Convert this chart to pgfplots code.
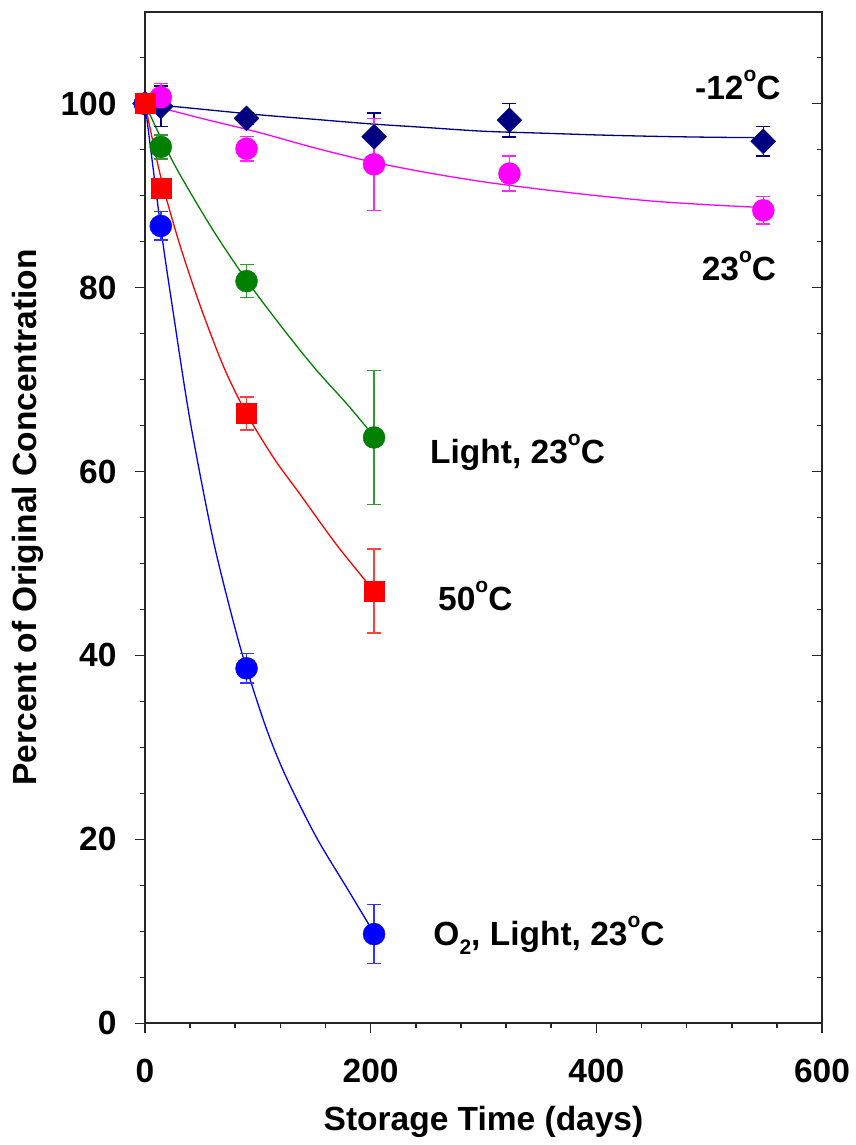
\documentclass[border=0pt]{standalone}
\usepackage{fontspec}
\setmainfont{Liberation Sans}
\usepackage{pgfplots}
\usepackage{pgfplotstable}
\pgfplotsset{compat=1.18}
\definecolor{cnavy}{HTML}{000080}
\definecolor{cmag}{HTML}{FF00FF}
\definecolor{cgreen}{HTML}{008000}
\definecolor{cred}{HTML}{FF0000}
\definecolor{cblue}{HTML}{0000FF}
\newcommand{\bigf}{\fontsize{33.5}{40}\selectfont\bfseries}
\newcommand{\dg}{\raisebox{18pt}{\fontsize{21}{21}\selectfont o}}
\newcommand{\sub}[1]{\raisebox{-9pt}{\fontsize{21}{21}\selectfont #1}}

% data points: x y error
\pgfplotstableread{
x y e
0 100 0
14 99.7 2.2
90 98.4 0.6
203 96.4 2.6
323 98.2 1.8
548 95.9 1.6
}\navydata
\pgfplotstableread{
x y e
0 100 0
14 100.7 1.5
90 95.1 1.35
203 93.4 5.0
323 92.4 1.9
548 88.4 1.5
}\magdata
\pgfplotstableread{
x y e
0 100 0
14 95.3 1.3
90 80.7 1.8
203 63.7 7.3
}\greendata
\pgfplotstableread{
x y e
0 100 0
14 90.8 0.8
90 66.3 1.8
203 47.0 4.55
}\reddata
\pgfplotstableread{
x y e
0 100 0
14 86.7 1.55
90 38.6 1.6
203 9.7 3.2
}\bluedata

% fitted curves
\pgfplotstableread{
x y
0 100
50 99.4
100 98.8
150 98.3
200 97.8
250 97.4
300 97.0
350 96.8
400 96.6
450 96.45
500 96.35
548 96.3
}\navycurve
\pgfplotstableread{
x y
0 100
50 98.4
100 96.9
150 95.2
200 93.7
250 92.5
300 91.5
350 90.7
400 90.0
450 89.4
500 89.0
548 88.7
}\magcurve
\pgfplotstableread{
x y
0 100
14 96.3
30 92.5
60 86.3
90 80.8
120 75.9
150 71.3
180 67.2
203 63.8
}\greencurve
\pgfplotstableread{
x y
0 100
14 92.0
30 85.0
48.7 78.1
70 71.3
90 66.3
115 61.3
137 57.6
170 52.0
203 47.0
}\redcurve
\pgfplotstableread{
x y
0 100
14 86.5
25 77.3
40 65.5
60 52.8
78 43.8
90 38.6
108 31.9
125 26.8
152 20.2
180 14.5
203 9.8
}\bluecurve

\begin{document}
\begin{tikzpicture}
\pgfplotsset{
  base/.style={
    at={(0,0)}, anchor=south west,
    scale only axis, width=677pt, height=1011.6pt,
    xmin=0, xmax=600, ymin=0, ymax=110,
    major tick length=10pt, minor tick length=5pt,
    axis line style={line width=2pt, black!85},
    every tick/.style={line width=1.6pt, black!85},
    ytick={0,20,40,60,80,100},
    minor ytick={5,10,15,25,30,35,45,50,55,65,70,75,85,90,95,105},
  }
}
\begin{axis}[base,
    xtick={0,200,400,600},
    minor xtick={40,80,120,160,240,280,320,360,440,480,520,560},
    xtick pos=bottom, ytick pos=left,
    tick align=outside,
    /pgf/number format/assume math mode=true,
    ticklabel style={font=\bigf},
    yticklabel style={xshift=-15pt},
    xticklabel style={yshift=-22pt},
    xlabel={Storage Time (days)},
    ylabel={Percent of Original Concentration},
    every axis x label/.style={at={(axis description cs:0.5,0)}, anchor=base, yshift=-106.7pt, font=\bigf},
    every axis y label/.style={at={(axis description cs:0,0.5)}, rotate=90, anchor=base, yshift=108pt, font=\bigf},
    clip=false,
]
% curves
\addplot[cnavy, line width=1.3pt, smooth] table[x=x,y=y] {\navycurve};
\addplot[cmag, line width=1.3pt, smooth] table[x=x,y=y] {\magcurve};
\addplot[cgreen, line width=1.3pt, smooth] table[x=x,y=y] {\greencurve};
\addplot[cblue, line width=1.3pt, smooth] table[x=x,y=y] {\bluecurve};
\addplot[cred, line width=1.3pt, smooth] table[x=x,y=y] {\redcurve};
% points with error bars
\addplot[only marks, mark=square*, mark size=8.8pt, mark options={rotate=45, fill=cnavy, draw=cnavy},
  error bars/.cd, y dir=both, y explicit,
  error bar style={line width=1.5pt, cnavy},
  error mark options={rotate=90, mark size=7pt, line width=1.5pt, cnavy}]
  table[x=x,y=y,y error=e] {\navydata};
\addplot[only marks, mark=*, mark size=11pt, mark options={fill=cmag, draw=cmag},
  error bars/.cd, y dir=both, y explicit,
  error bar style={line width=1.5pt, cmag!85},
  error mark options={rotate=90, mark size=7pt, line width=1.5pt, cmag!85}]
  table[x=x,y=y,y error=e] {\magdata};
\addplot[only marks, mark=*, mark size=11pt, mark options={fill=cgreen, draw=cgreen},
  error bars/.cd, y dir=both, y explicit,
  error bar style={line width=1.5pt, cgreen!80},
  error mark options={rotate=90, mark size=7pt, line width=1.5pt, cgreen!80}]
  table[x=x,y=y,y error=e] {\greendata};
\addplot[only marks, mark=*, mark size=11pt, mark options={fill=cblue, draw=cblue},
  error bars/.cd, y dir=both, y explicit,
  error bar style={line width=1.5pt, cblue!80},
  error mark options={rotate=90, mark size=7pt, line width=1.5pt, cblue!80}]
  table[x=x,y=y,y error=e] {\bluedata};
\addplot[only marks, mark=square*, mark size=10pt, mark options={fill=cred, draw=cred},
  error bars/.cd, y dir=both, y explicit,
  error bar style={line width=1.5pt, cred!75},
  error mark options={rotate=90, mark size=7pt, line width=1.5pt, cred!75}]
  table[x=x,y=y,y error=e] {\reddata};
% labels
\node[anchor=base west, inner sep=0pt, font=\bigf] at (axis cs:487.4,100.5) {-12\dg C};
\node[anchor=base west, inner sep=0pt, font=\bigf] at (axis cs:493.3,80.8) {23\dg C};
\node[anchor=base west, inner sep=0pt, font=\bigf] at (axis cs:252.6,60.9) {Light, 23\dg C};
\node[anchor=base west, inner sep=0pt, font=\bigf] at (axis cs:259.7,44.9) {50\dg C};
\node[anchor=base west, inner sep=0pt, font=\bigf] at (axis cs:255.5,8.5) {O\sub{2}, Light, 23\dg C};
\end{axis}
\begin{axis}[base,
    hide x axis, axis y line*=right,
    tick align=inside,
    yticklabels={},
]
\end{axis}
\pgfresetboundingbox
\useasboundingbox (-145pt,-121.7pt) rectangle (710pt,1023.3pt);
\end{tikzpicture}
\end{document}
